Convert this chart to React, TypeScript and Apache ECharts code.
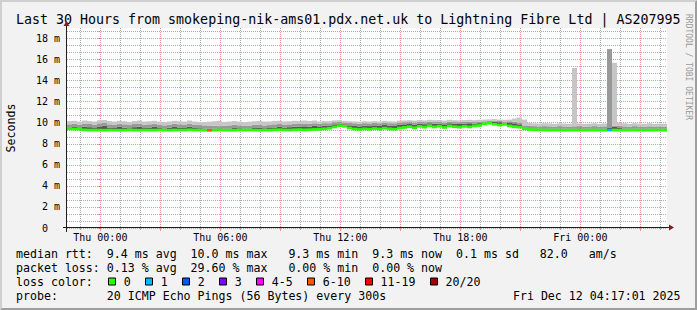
import React, { useEffect, useRef } from 'react';
import * as echarts from 'echarts';

const FONT = 'DejaVu Sans Mono';

const TITLE = 'Last 30 Hours from smokeping-nik-ams01.pdx.net.uk to Lightning Fibre Ltd | AS207995';
const Y_NAME = 'Seconds';
const WATERMARK = 'RRDTOOL / TOBI OETIKER';
const TIMESTAMP = 'Fri Dec 12 04:17:01 2025';
const PROBE = '20 ICMP Echo Pings (56 Bytes) every 300s';

// time window in hours relative to Thu 00:00 (Wed 22:20 .. Fri 04:20)
const START_HOUR = -5 / 3;
const END_HOUR = 28 + 1 / 3;
const SLOT_MINUTES = 15;

const xLabelHours = [0, 6, 12, 18, 24];
const xLabels = ['Thu 00:00', 'Thu 06:00', 'Thu 12:00', 'Thu 18:00', 'Fri 00:00'];
const yLabelValues = [0, 2, 4, 6, 8, 10, 12, 14, 16, 18];
const yLabels = ['0', '2 m', '4 m', '6 m', '8 m', '10 m', '12 m', '14 m', '16 m', '18 m'];
const Y_MAX = 19;

const rttStats = { avg: 9.4, max: 10.0, min: 9.3, now: 9.3, sd: 0.1, ams: 82.0 };
const lossStats = { avg: 0.13, max: 29.6, min: 0.0, now: 0.0 };

const lossLabels = ['0', '1', '2', '3', '4-5', '6-10', '11-19', '20/20'];
const lossColors = ['#26ff00', '#00b8ff', '#0059ff', '#7e00ff', '#ff00ff', '#ff5500', '#ff0000', '#a10000'];

// median rtt per 15-minute slot (ms)
const median = [
  9.42, 9.40, 9.38, 9.32, 9.30, 9.31, 9.30, 9.29, 9.31, 9.30,
  9.29, 9.30, 9.32, 9.30, 9.29, 9.31, 9.30, 9.30, 9.32, 9.30,
  9.29, 9.31, 9.30, 9.30, 9.33, 9.31, 9.30, 9.29, 9.28, 9.30,
  9.31, 9.30, 9.29, 9.30, 9.32, 9.30, 9.31, 9.30, 9.29, 9.31,
  9.30, 9.32, 9.34, 9.31, 9.30, 9.33, 9.35, 9.32, 9.34, 9.36,
  9.38, 9.42, 9.48, 9.60, 9.72, 9.66, 9.50, 9.40, 9.36, 9.42,
  9.38, 9.45, 9.40, 9.48, 9.42, 9.38, 9.50, 9.55, 9.62, 9.52,
  9.66, 9.58, 9.72, 9.60, 9.68, 9.55, 9.70, 9.62, 9.58, 9.66,
  9.60, 9.70, 9.74, 9.90, 9.95, 9.86, 9.78, 9.84, 9.70, 9.62,
  9.58, 9.42, 9.36, 9.33, 9.32, 9.31, 9.30, 9.31, 9.30, 9.29,
  9.30, 9.31, 9.30, 9.29, 9.30, 9.31, 9.30, 9.29, 9.30, 9.31,
  9.30, 9.29, 9.30, 9.31, 9.30, 9.29, 9.30, 9.31, 9.30, 9.29,
];

// lost pings (of 20) per slot
const lossCount = [
  0, 0, 0, 0, 0, 0, 0, 0, 0, 0,
  0, 0, 0, 0, 0, 0, 0, 0, 0, 0,
  0, 0, 0, 0, 0, 0, 0, 0, 6, 0,
  0, 0, 0, 0, 0, 0, 0, 0, 0, 0,
  0, 0, 0, 0, 0, 0, 0, 0, 0, 0,
  0, 0, 0, 0, 0, 0, 0, 0, 0, 0,
  0, 0, 0, 0, 0, 0, 0, 0, 0, 0,
  0, 0, 0, 0, 0, 0, 0, 0, 0, 0,
  0, 0, 0, 0, 0, 0, 0, 0, 0, 0,
  0, 0, 0, 0, 0, 0, 0, 0, 0, 0,
  0, 0, 0, 0, 0, 0, 0, 0, 1, 0,
  0, 0, 0, 0, 0, 0, 0, 0, 0, 0,
];

// inner smoke (dense pings) upper edge
const smokeInner = [
  9.55, 9.60, 9.50, 9.62, 9.58, 9.50, 9.65, 9.70, 9.55, 9.50,
  9.60, 9.52, 9.48, 9.58, 9.62, 9.50, 9.55, 9.60, 9.50, 9.45,
  9.52, 9.60, 9.55, 9.50, 9.62, 9.50, 9.48, 9.45, 9.42, 9.45,
  9.40, 9.42, 9.45, 9.50, 9.48, 9.42, 9.45, 9.50, 9.55, 9.48,
  9.50, 9.55, 9.60, 9.52, 9.58, 9.62, 9.60, 9.66, 9.62, 9.70,
  9.65, 9.72, 9.70, 9.85, 9.90, 9.85, 9.75, 9.70, 9.65, 9.72,
  9.68, 9.75, 9.70, 9.78, 9.72, 9.70, 9.80, 9.85, 9.88, 9.82,
  9.90, 9.86, 9.95, 9.90, 9.92, 9.85, 9.95, 9.90, 9.88, 9.92,
  9.95, 9.90, 9.96, 10.00, 10.05, 10.10, 10.05, 10.00, 10.02, 9.95,
  9.85, 9.55, 9.48, 9.45, 9.42, 9.45, 9.44, 9.42, 9.45, 9.43,
  9.42, 9.44, 9.46, 9.42, 9.43, 9.45, 9.42, 9.44, 9.50, 9.60,
  9.50, 9.45, 9.42, 9.44, 9.43, 9.42, 9.44, 9.42, 9.43, 9.42,
];

// middle smoke upper edge
const smokeMiddle = [
  9.85, 9.90, 9.80, 9.92, 9.88, 9.80, 9.95, 9.98, 9.85, 9.80,
  9.90, 9.85, 9.78, 9.88, 9.92, 9.80, 9.85, 9.90, 9.80, 9.75,
  9.82, 9.90, 9.85, 9.80, 9.92, 9.80, 9.78, 9.75, 9.70, 9.72,
  9.68, 9.70, 9.75, 9.80, 9.76, 9.70, 9.72, 9.80, 9.82, 9.75,
  9.78, 9.85, 9.88, 9.80, 9.85, 9.90, 9.88, 9.92, 9.90, 9.95,
  9.92, 9.96, 9.95, 10.05, 10.08, 10.02, 9.98, 9.95, 9.92, 9.96,
  9.94, 9.98, 9.95, 10.00, 9.96, 9.95, 10.02, 10.05, 10.06, 10.02,
  10.08, 10.05, 10.10, 10.06, 10.08, 10.02, 10.10, 10.06, 10.05, 10.08,
  10.10, 10.06, 10.10, 10.14, 10.18, 10.20, 10.16, 10.12, 10.14, 10.08,
  10.00, 9.75, 9.70, 9.68, 9.65, 9.68, 9.66, 9.64, 9.68, 9.65,
  9.64, 9.66, 9.68, 9.64, 9.65, 9.68, 9.64, 9.66, 17.00, 9.70,
  9.70, 9.66, 9.64, 9.68, 9.65, 9.64, 9.66, 9.64, 9.65, 9.64,
];

// outer smoke (slowest pings) upper edge
const smokeOuter = [
  10.16, 10.18, 10.11, 10.21, 10.16, 10.11, 10.24, 10.26, 10.16, 10.11,
  10.18, 10.14, 10.08, 10.16, 10.21, 10.11, 10.14, 10.18, 10.11, 10.06,
  10.12, 10.18, 10.14, 10.11, 10.21, 10.11, 10.08, 10.06, 10.11, 10.14,
  10.16, 10.08, 10.12, 10.16, 10.11, 10.06, 10.10, 10.14, 10.16, 10.11,
  10.12, 10.16, 10.18, 10.12, 10.14, 10.18, 10.16, 10.21, 10.16, 10.21,
  10.12, 10.16, 10.15, 10.22, 10.25, 10.18, 10.15, 10.12, 10.10, 10.14,
  10.12, 10.15, 10.12, 10.18, 10.14, 10.12, 10.20, 10.22, 10.24, 10.20,
  10.25, 10.22, 10.28, 10.24, 10.26, 10.20, 10.28, 10.24, 10.22, 10.25,
  10.28, 10.24, 10.28, 10.30, 10.32, 10.35, 10.30, 10.28, 10.30, 10.40,
  10.50, 10.30, 10.00, 9.95, 9.92, 9.96, 9.94, 9.90, 9.95, 9.92,
  9.90, 15.20, 9.94, 9.90, 9.92, 9.95, 9.90, 9.94, 17.00, 15.70,
  10.00, 9.95, 9.90, 9.96, 9.92, 9.90, 9.95, 9.90, 9.92, 9.90,
];

// ---------- styling / layout ----------
const W = 697;
const H = 310;
const X0 = 67;
const Y0 = 228;
const XS = 600;
const YS = 200;
const BG = '#f2f2f2';
const GRID_MINOR = 'rgba(143,143,143,0.75)';
const GRID_MAJOR = 'rgba(222,79,79,0.6)';
const AXIS = '#1f1f1f';
const ARROW = '#801f1f';
const SMOKE_DARK = '#575757';
const SMOKE_MID = '#999999';
const SMOKE_LIGHT = '#c6c6c6';
const MEDIAN_HALF = 0.13;
const LFS = 11.6;
const CW = LFS * 0.6021;
const LX = 16;

function lossColor(n: number): string {
  if (n <= 0) return lossColors[0];
  if (n === 1) return lossColors[1];
  if (n === 2) return lossColors[2];
  if (n === 3) return lossColors[3];
  if (n <= 5) return lossColors[4];
  if (n <= 10) return lossColors[5];
  if (n <= 19) return lossColors[6];
  return lossColors[7];
}

function buildOption() {
  const slots = median.map((_, i) => {
    const m = Math.round(START_HOUR * 60 + i * SLOT_MINUTES);
    const mm = ((m % 1440) + 1440) % 1440;
    return String(Math.floor(mm / 60)).padStart(2, '0') + ':' + String(mm % 60).padStart(2, '0');
  });

  const minorHours: number[] = [];
  const majorHours: number[] = [];
  for (let h = Math.ceil(START_HOUR); h < END_HOUR; h++) {
    if (h % 3 === 0) majorHours.push(h);
    else minorHours.push(h);
  }
  const minorY: number[] = [];
  for (let k = 1; (2 * k) / 3 < Y_MAX; k++) {
    if (k % 3 !== 0) minorY.push((2 * k) / 3);
  }

  const fmt1 = (v: number) => v.toFixed(1);
  const fmt2 = (v: number) => v.toFixed(2);
  const row1 = `median rtt:  ${fmt1(rttStats.avg)} ms avg  ${fmt1(rttStats.max).padStart(4)} ms max  ${fmt1(rttStats.min).padStart(4)} ms min  ${fmt1(rttStats.now)} ms now  ${fmt1(rttStats.sd)} ms sd  ${fmt1(rttStats.ams).padStart(5)}   am/s`;
  const row2 = `packet loss: ${fmt2(lossStats.avg)} % avg  ${fmt2(lossStats.max).padStart(5)} % max  ${fmt2(lossStats.min).padStart(5)} % min  ${fmt2(lossStats.now)} % now`;
  const row3 = 'loss color:';
  const row4 = `probe:       ${PROBE}`;

  const txt = (text: string, x: number, y: number, extra: any = {}) => ({
    type: 'text',
    x,
    y,
    silent: true,
    style: {
      text,
      fontSize: LFS,
      fontFamily: FONT,
      fill: '#000',
      align: 'left',
      verticalAlign: 'middle',
      ...extra,
    },
  });

  const tokens = (str: string, y: number) => {
    const out: any[] = [];
    const re = /\S+/g;
    let m: RegExpExecArray | null;
    while ((m = re.exec(str))) out.push(txt(m[0], LX + m.index * CW, y));
    return out;
  };

  const ROWS = [254, 268, 282, 296];
  const graphics: any[] = [];

  // 3D frame
  graphics.push({
    type: 'polygon',
    silent: true,
    shape: { points: [[0, 0], [W, 0], [W - 2, 2], [2, 2], [2, H - 2], [0, H]] },
    style: { fill: '#cfcfcf' },
  });
  graphics.push({
    type: 'polygon',
    silent: true,
    shape: { points: [[W, H], [0, H], [2, H - 2], [W - 2, H - 2], [W - 2, 2], [W, 0]] },
    style: { fill: '#9e9e9e' },
  });

  graphics.push(txt(TITLE, LX, 19, { fontSize: 13.3 }));
  graphics.push({
    type: 'text',
    x: 688,
    y: 14,
    rotation: -Math.PI / 2,
    silent: true,
    style: { text: WATERMARK, fontSize: 8, fontFamily: FONT, fill: '#999999', align: 'left', verticalAlign: 'middle' },
  });
  graphics.push({
    type: 'text',
    x: 10.5,
    y: Y0 - YS / 2,
    rotation: Math.PI / 2,
    silent: true,
    style: { text: Y_NAME, fontSize: LFS, fontFamily: FONT, fill: '#000', align: 'center', verticalAlign: 'middle' },
  });

  // axes with arrows
  const ax = Y0 - 0.5;
  const ay = X0 - 0.5;
  graphics.push({
    type: 'line', silent: true, z: 10,
    shape: { x1: X0 - 4, y1: ax, x2: X0 + XS + 4, y2: ax },
    style: { stroke: AXIS, lineWidth: 1 },
  });
  graphics.push({
    type: 'line', silent: true, z: 10,
    shape: { x1: ay, y1: Y0 + 4, x2: ay, y2: Y0 - YS - 4 },
    style: { stroke: AXIS, lineWidth: 1 },
  });
  graphics.push({
    type: 'polygon', silent: true, z: 10,
    shape: { points: [[X0 + XS + 2, ax - 3], [X0 + XS + 2, ax + 3], [X0 + XS + 7, ax]] },
    style: { fill: ARROW },
  });
  graphics.push({
    type: 'polygon', silent: true, z: 10,
    shape: { points: [[ay - 3, Y0 - YS - 2], [ay + 3, Y0 - YS - 2], [ay, Y0 - YS - 7]] },
    style: { fill: ARROW },
  });

  // legend
  graphics.push(...tokens(row1, ROWS[0]));
  graphics.push(...tokens(row2, ROWS[1]));
  graphics.push(...tokens(row3, ROWS[2]));
  let bx = LX + 13 * CW + 1;
  lossLabels.forEach((lab, i) => {
    const rx = Math.round(bx) + 0.5;
    graphics.push({
      type: 'rect', silent: true,
      shape: { x: rx, y: ROWS[2] - 4, width: 7, height: 7 },
      style: { fill: lossColors[i], stroke: '#000', lineWidth: 1 },
    });
    const tx = bx + 16;
    graphics.push(txt(lab, tx, ROWS[2]));
    bx = tx + lab.length * CW + 14;
  });
  graphics.push(...tokens(row4, ROWS[3]));
  graphics.push(txt(TIMESTAMP, 680.5, ROWS[3], { align: 'right' }));

  const barCommon = {
    type: 'bar',
    xAxisIndex: 2,
    yAxisIndex: 0,
    barCategoryGap: '0%',
    barGap: '-100%',
    silent: true,
  };

  const series = [
    { ...barCommon, stack: 'smoke', itemStyle: { color: 'rgba(0,0,0,0)' }, data: median.slice() },
    {
      ...barCommon, stack: 'smoke', itemStyle: { color: SMOKE_DARK },
      data: smokeInner.map((v, i) => Math.max(0, v - median[i])),
    },
    {
      ...barCommon, stack: 'smoke', itemStyle: { color: SMOKE_MID },
      data: smokeMiddle.map((v, i) => Math.max(0, v - Math.max(smokeInner[i], median[i]))),
    },
    {
      ...barCommon, stack: 'smoke', itemStyle: { color: SMOKE_LIGHT },
      data: smokeOuter.map((v, i) => Math.max(0, v - Math.max(smokeMiddle[i], smokeInner[i], median[i]))),
    },
    { ...barCommon, stack: 'median', itemStyle: { color: 'rgba(0,0,0,0)' }, data: median.map((v) => v - MEDIAN_HALF) },
    {
      ...barCommon, stack: 'median',
      data: median.map((_, i) => ({ value: 2 * MEDIAN_HALF, itemStyle: { color: lossColor(lossCount[i]) } })),
    },
  ];

  return {
    animation: false,
    backgroundColor: BG,
    grid: { left: X0, top: Y0 - YS, width: XS, height: YS, show: true, backgroundColor: '#ffffff', borderWidth: 0 },
    xAxis: [
      {
        type: 'value', position: 'bottom', min: START_HOUR, max: END_HOUR,
        axisLine: { show: false }, axisLabel: { show: false },
        axisTick: { show: true, length: 2, customValues: minorHours, lineStyle: { color: GRID_MINOR } },
        splitLine: { show: true, lineStyle: { color: GRID_MINOR, width: 1, type: [1, 1] } },
      },
      {
        type: 'value', position: 'bottom', min: START_HOUR, max: END_HOUR,
        axisLine: { show: false },
        axisTick: { show: true, length: 3, customValues: majorHours, lineStyle: { color: GRID_MAJOR } },
        axisLabel: {
          show: true, customValues: xLabelHours, margin: 4, fontSize: 10, fontFamily: FONT, color: '#000',
          formatter: (v: number) => {
            const k = xLabelHours.indexOf(Math.round(v));
            return k >= 0 ? xLabels[k] : '';
          },
        },
        splitLine: { show: true, lineStyle: { color: GRID_MAJOR, width: 1, type: [1, 1] } },
      },
      { type: 'category', position: 'bottom', show: false, data: slots, boundaryGap: true },
    ],
    yAxis: [
      {
        type: 'value', position: 'left', min: 0, max: Y_MAX,
        axisLine: { show: false },
        axisTick: { show: true, length: 2, customValues: yLabelValues, lineStyle: { color: GRID_MAJOR } },
        axisLabel: {
          show: true, customValues: yLabelValues, margin: 7, fontSize: 10, fontFamily: FONT, color: '#000',
          formatter: (v: number) => {
            const k = yLabelValues.indexOf(Math.round(v));
            if (k < 0) return '';
            return v === 0 ? `{z|${yLabels[k]}}` : yLabels[k];
          },
          rich: { z: { fontSize: 10, fontFamily: FONT, color: '#000', padding: [0, 12, 0, 0] } },
        },
        splitLine: { show: true, lineStyle: { color: GRID_MAJOR, width: 1, type: [1, 1] } },
      },
      {
        type: 'value', position: 'left', min: 0, max: Y_MAX,
        axisLine: { show: false }, axisLabel: { show: false },
        axisTick: { show: true, length: 2, customValues: minorY, lineStyle: { color: GRID_MINOR } },
        splitLine: { show: true, lineStyle: { color: GRID_MINOR, width: 1, type: [1, 1] } },
      },
    ],
    graphic: graphics,
    series,
  };
}

export default function App() {
  const ref = useRef<HTMLDivElement>(null);
  useEffect(() => {
    document.body.style.margin = '0';
    if (!ref.current) return;
    const chart = echarts.init(ref.current, null, { renderer: 'svg' });
    chart.setOption(buildOption() as any);
    return () => chart.dispose();
  }, []);
  return <div ref={ref} style={{ width: W, height: H }} />;
}
